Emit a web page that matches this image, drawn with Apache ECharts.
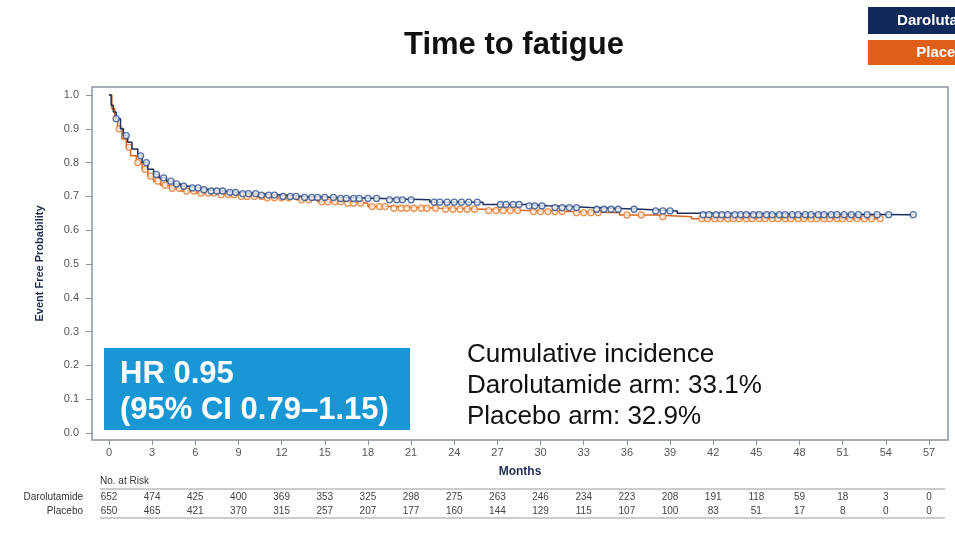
<!DOCTYPE html>
<html>
<head>
<meta charset="utf-8">
<script src="https://cdn.jsdelivr.net/npm/echarts@6/dist/echarts.min.js"></script>
<style>
  html, body { margin: 0; padding: 0; background: #fff; }
  #main { width: 955px; height: 533px; }
</style>
</head>
<body>
<div id="main"></div>
<script>
// KM step points [month, probability]
var daroSteps = [[0,1.0],[0.15,0.97],[0.3,0.95],[0.5,0.93],[0.8,0.90],[1.0,0.88],[1.3,0.86],[1.6,0.84],[2.0,0.82],[2.3,0.80],[2.7,0.78],[3.1,0.765],[3.5,0.755],[4.0,0.745],[4.5,0.737],[5.0,0.73],[5.6,0.725],[6.3,0.72],[7.0,0.716],[8.0,0.712],[9.0,0.708],[10.5,0.704],[12.0,0.70],[13.5,0.697],[16.0,0.694],[19.0,0.69],[22.3,0.683],[26.0,0.676],[29.0,0.672],[30.5,0.667],[33.5,0.662],[37.0,0.657],[39.5,0.65],[41.0,0.646],[55.9,0.646]];
var placSteps = [[0,1.0],[0.2,0.96],[0.4,0.93],[0.6,0.90],[0.9,0.87],[1.2,0.845],[1.5,0.82],[1.9,0.80],[2.3,0.78],[2.7,0.76],[3.1,0.745],[3.6,0.733],[4.2,0.724],[5.0,0.716],[6.0,0.71],[7.5,0.705],[9.0,0.70],[11.0,0.696],[13.0,0.69],[14.5,0.684],[16.5,0.68],[18.0,0.67],[19.5,0.665],[23.0,0.662],[26.0,0.658],[29.0,0.655],[32.0,0.652],[35.5,0.645],[38.0,0.64],[40.5,0.634],[53.6,0.634]];

// censoring marks (months)
var daroCensor = [0.5,1.2,2.2,2.6,3.3,3.8,4.3,4.7,5.2,5.8,6.2,6.6,7.1,7.5,7.9,8.4,8.8,9.3,9.7,10.2,10.6,11.1,11.5,12.1,12.6,13.0,13.6,14.1,14.5,15.0,15.6,16.1,16.5,17.0,17.4,18.0,18.6,19.5,20.0,20.4,21.0,22.6,23.0,23.5,24.0,24.5,25.0,25.6,27.2,27.6,28.1,28.5,29.2,29.6,30.1,31.0,31.5,32.0,32.5,33.9,34.4,34.9,35.4,36.5,38.0,38.5,39.0,41.3,41.7,42.2,42.6,43.0,43.5,43.9,44.3,44.8,45.2,45.7,46.1,46.6,47.0,47.5,47.9,48.4,48.8,49.3,49.7,50.2,50.6,51.1,51.6,52.1,52.7,53.4,54.2,55.9];
var placCensor = [0.7,1.4,2.0,2.5,2.9,3.4,3.9,4.4,4.9,5.4,5.9,6.4,6.9,7.3,7.8,8.3,8.7,9.2,9.6,10.1,10.6,11.0,11.5,12.0,12.5,13.4,13.9,14.8,15.2,15.7,16.1,16.6,17.0,17.5,18.3,18.8,19.2,19.8,20.3,20.7,21.2,21.7,22.1,22.7,23.4,23.9,24.4,24.9,25.4,26.4,26.9,27.4,27.9,28.4,29.5,30.0,30.5,31.0,31.5,32.5,33.0,33.5,34.0,36.0,37.0,38.5,41.2,41.6,42.1,42.5,43.0,43.4,43.8,44.3,44.7,45.2,45.6,46.1,46.5,47.0,47.4,47.9,48.3,48.8,49.2,49.7,50.1,50.6,51.0,51.5,52.0,52.5,53.0,53.6];

// number at risk
var riskTimes = [0,3,6,9,12,15,18,21,24,27,30,33,36,39,42,45,48,51,54,57];
var daroRisk = [652,474,425,400,369,353,325,298,275,263,246,234,223,208,191,118,59,18,3,0];
var placRisk = [650,465,421,370,315,257,207,177,160,144,129,115,107,100,83,51,17,8,0,0];

var yTicks = [0,0.1,0.2,0.3,0.4,0.5,0.6,0.7,0.8,0.9,1.0];

function survAt(steps, t) {
  var s = steps[0][1];
  for (var i = 0; i < steps.length; i++) {
    if (steps[i][0] <= t) s = steps[i][1];
  }
  return s;
}
function censorPts(steps, times) {
  return times.map(function (t) { return [t, survAt(steps, t)]; });
}

var navyLine = '#1c2f5c', navyDot = '#2d4f8e';
var orangeLine = '#d9651c', orangeDot = '#e27a2c';
var axisGray = '#8c92a4';
var FONT = '"Liberation Sans", Arial';

var chart = echarts.init(document.getElementById('main'));
var option = {
  backgroundColor: '#fff',
  animation: false,
  grid: { left: 92, right: 7, top: 87, bottom: 93 },
  xAxis: {
    type: 'value', min: -1.18, max: 58.32,
    axisLine: { show: false, onZero: false },
    axisTick: { show: true, length: 5, customValues: riskTimes, lineStyle: { color: axisGray } },
    axisLabel: { color: '#555', fontSize: 11, fontFamily: 'Liberation Sans', margin: 7, customValues: riskTimes },
    splitLine: { show: false },
    name: 'Months', nameLocation: 'middle', nameGap: 26,
    nameTextStyle: { color: '#1f2d52', fontWeight: 'bold', fontSize: 12, fontFamily: 'Liberation Sans' }
  },
  yAxis: {
    type: 'value', min: -0.0207, max: 1.0237,
    axisLine: { show: false, onZero: false },
    axisTick: { show: true, length: 6, customValues: yTicks, lineStyle: { color: axisGray } },
    axisLabel: { color: '#555', fontSize: 11, fontFamily: 'Liberation Sans', margin: 13, customValues: yTicks,
      formatter: function (v) { return v.toFixed(1); } },
    splitLine: { show: false },
    name: 'Event Free Probability', nameLocation: 'middle', nameGap: 47, nameRotate: 90,
    nameTextStyle: { color: '#1f2d52', fontWeight: 'bold', fontSize: 11, fontFamily: 'Liberation Sans' }
  },
  series: [
    { type: 'line', step: 'end', data: placSteps, showSymbol: false,
      lineStyle: { color: orangeLine, width: 1.5 }, z: 2 },
    { type: 'scatter', data: censorPts(placSteps, placCensor), symbol: 'circle', symbolSize: 6,
      itemStyle: { color: '#fdf3ea', borderColor: orangeDot, borderWidth: 1.3 }, z: 3 },
    { type: 'line', step: 'end', data: daroSteps, showSymbol: false,
      lineStyle: { color: navyLine, width: 1.5 }, z: 4 },
    { type: 'scatter', data: censorPts(daroSteps, daroCensor), symbol: 'circle', symbolSize: 6,
      itemStyle: { color: '#eef2f8', borderColor: navyDot, borderWidth: 1.3 }, z: 5 }
  ]
};
chart.setOption(option);

// overlays: frame, title, legend, annotations, risk table
var g = [];
g.push({ type: 'rect', shape: { x: 92, y: 87, width: 856, height: 353 }, silent: true, z: 0,
  style: { fill: 'none', stroke: axisGray, lineWidth: 1.5 } });
g.push({ type: 'text', x: 514, y: 45, z: 10,
  style: { text: 'Time to fatigue', fill: '#111', font: 'bold 31px ' + FONT,
    textAlign: 'center', textVerticalAlign: 'middle' } });
g.push({ type: 'rect', shape: { x: 868, y: 7, width: 155, height: 27 }, z: 10, style: { fill: '#10295a' } });
g.push({ type: 'text', x: 945, y: 21, z: 11,
  style: { text: 'Darolutamide', fill: '#fff', font: 'bold 15px ' + FONT, textAlign: 'center', textVerticalAlign: 'middle' } });
g.push({ type: 'rect', shape: { x: 868, y: 40, width: 155, height: 25 }, z: 10, style: { fill: '#df5f17' } });
g.push({ type: 'text', x: 945, y: 53, z: 11,
  style: { text: 'Placebo', fill: '#fff', font: 'bold 15px ' + FONT, textAlign: 'center', textVerticalAlign: 'middle' } });

g.push({ type: 'rect', shape: { x: 104, y: 348, width: 306, height: 82 }, z: 10, style: { fill: '#1897d4' } });
g.push({ type: 'text', x: 120, y: 374, z: 11,
  style: { text: 'HR 0.95', fill: '#fff', font: 'bold 31px ' + FONT, textVerticalAlign: 'middle' } });
g.push({ type: 'text', x: 120, y: 410, z: 11,
  style: { text: '(95% CI 0.79\u20131.15)', fill: '#fff', font: 'bold 31px ' + FONT, textVerticalAlign: 'middle' } });

['Cumulative incidence', 'Darolutamide arm: 33.1%', 'Placebo arm: 32.9%'].forEach(function (t, i) {
  g.push({ type: 'text', x: 467, y: 355 + i * 31, z: 11,
    style: { text: t, fill: '#111', font: '26px ' + FONT, textVerticalAlign: 'middle' } });
});

g.push({ type: 'text', x: 100, y: 481, z: 11,
  style: { text: 'No. at Risk', fill: '#333', font: '10px ' + FONT, textVerticalAlign: 'middle' } });
g.push({ type: 'line', shape: { x1: 100, y1: 489, x2: 945, y2: 489 }, style: { stroke: '#999', lineWidth: 1 } });
g.push({ type: 'line', shape: { x1: 100, y1: 518, x2: 945, y2: 518 }, style: { stroke: '#999', lineWidth: 1 } });
g.push({ type: 'text', x: 83, y: 497, z: 11,
  style: { text: 'Darolutamide', fill: '#333', font: '10px ' + FONT, textAlign: 'right', textVerticalAlign: 'middle' } });
g.push({ type: 'text', x: 83, y: 511, z: 11,
  style: { text: 'Placebo', fill: '#333', font: '10px ' + FONT, textAlign: 'right', textVerticalAlign: 'middle' } });
riskTimes.forEach(function (t, i) {
  var px = chart.convertToPixel({ xAxisIndex: 0 }, t);
  g.push({ type: 'text', x: px, y: 497, z: 11,
    style: { text: String(daroRisk[i]), fill: '#444', font: '10px ' + FONT, textAlign: 'center', textVerticalAlign: 'middle' } });
  g.push({ type: 'text', x: px, y: 511, z: 11,
    style: { text: String(placRisk[i]), fill: '#444', font: '10px ' + FONT, textAlign: 'center', textVerticalAlign: 'middle' } });
});
chart.setOption({ graphic: g });
</script>
</body>
</html>
